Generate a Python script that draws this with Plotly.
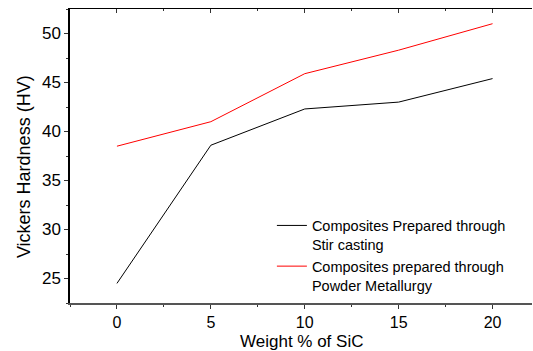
import plotly.graph_objects as go

weight_sic = [0, 5, 10, 15, 20]
stir_casting = [24.5, 38.6, 42.3, 43.0, 45.4]
powder_metallurgy = [38.5, 41.0, 45.9, 48.3, 51.0]
x_ticks = [0, 5, 10, 15, 20]
y_ticks = [25, 30, 35, 40, 45, 50]

FONT = "Liberation Sans, Arial, sans-serif"

fig = go.Figure()
fig.add_trace(go.Scatter(x=weight_sic, y=stir_casting, mode="lines",
                         line=dict(color="black", width=1),
                         name="Composites Prepared through<br>Stir casting"))
fig.add_trace(go.Scatter(x=weight_sic, y=powder_metallurgy, mode="lines",
                         line=dict(color="red", width=1),
                         name="Composites prepared through<br>Powder Metallurgy"))
# invisible trace for top axis
fig.add_trace(go.Scatter(x=[weight_sic[0]], y=[stir_casting[0]], xaxis="x2",
                         mode="markers", marker=dict(opacity=0), showlegend=False,
                         hoverinfo="skip"))

fig.update_layout(
    width=533, height=351,
    margin=dict(l=70, r=1, t=9, b=48),
    paper_bgcolor="white", plot_bgcolor="white",
    font=dict(family=FONT, color="black"),
    showlegend=True,
    legend=dict(x=0.437, y=0.318, xanchor="left", yanchor="top",
                bgcolor="rgba(0,0,0,0)", font=dict(size=14.5, family=FONT),
                valign="top", tracegroupgap=0, itemwidth=30),
    xaxis=dict(range=[-2.5, 22.1], tickvals=x_ticks, ticks="outside", ticklen=4,
               tickwidth=1, tickcolor="#333", showgrid=False, zeroline=False,
               showline=True, linecolor="#555", linewidth=2,
               tickfont=dict(size=16, family=FONT),
               minor=dict(dtick=2.5, tick0=0, ticks="outside", ticklen=2, tickcolor="#333")),
    xaxis2=dict(overlaying="x", side="top", range=[-2.5, 22.1], tickvals=x_ticks,
                ticks="inside", ticklen=4, tickcolor="#333", showticklabels=False,
                showgrid=False, zeroline=False, showline=True, linecolor="black",
                linewidth=1,
                minor=dict(dtick=2.5, tick0=0, ticks="inside", ticklen=2, tickcolor="#333")),
    yaxis=dict(range=[22.5, 52.5], tickvals=y_ticks, ticks="outside", ticklen=4,
               tickwidth=1, tickcolor="#333", showgrid=False, zeroline=False,
               showline=True, linecolor="black", linewidth=1.5,
               tickfont=dict(size=17, family=FONT),
               minor=dict(dtick=2.5, tick0=0, ticks="outside", ticklen=2, tickcolor="#333")),
    annotations=[
        dict(text="Vickers Hardness (HV)", textangle=-90, xref="paper", yref="paper",
             x=-0.1, y=0.465, xanchor="center", yanchor="middle", showarrow=False,
             font=dict(size=18, family=FONT)),
        dict(text="Weight % of SiC", xref="paper", yref="paper",
             x=0.5, y=-0.131, xanchor="center", yanchor="middle", showarrow=False,
             font=dict(size=17, family=FONT)),
    ],
)

fig.write_html("out.html")
